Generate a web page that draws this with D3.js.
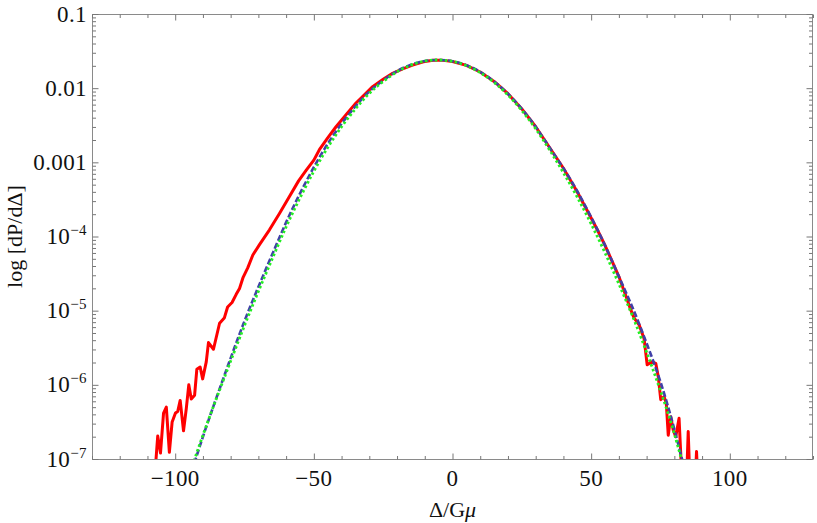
<!DOCTYPE html>
<html>
<head>
<meta charset="utf-8">
<script src="https://cdn.jsdelivr.net/npm/d3@7"></script>
<style>
  body { margin: 0; background: #fff; }
  text { font-family: "Liberation Serif", "Times New Roman", serif; fill: #111; }
</style>
</head>
<body>
<svg id="svg" width="817" height="523"></svg>
<script>
// tick labels
const xTickValues = [-100, -50, 0, 50, 100];
const yDecades = [-1, -2, -3, -4, -5, -6, -7];
const yTickText = ["0.1", "0.01", "0.001", null, null, null, null];

// red: simulated histogram (log10 of dP/dΔ)
const redX = [-107.5, -106.3, -105.3, -104.2, -103.2, -102.1, -101.1, -99.9, -99.1, -98.2,
  -97.0, -96.0, -95.1, -94.2, -93.0, -92.2, -91.0, -90.1, -88.8, -88.0, -86.2, -84.0,
  -82.3, -81.1, -79.5, -78.0, -76.8, -75.5, -73.8, -72.0, -69.6, -66.0, -62.4, -58.8,
  -55.5, -52.8, -50.0, -48.0, -45.0, -42.0, -38.0, -34.8, -31.5, -28.8, -25.0, -21.6,
  -18.0, -14.4, -10.5, -7.0, -4.0, 0, 5, 10, 15, 20, 25, 30, 35, 40, 45, 50, 52.5, 55,
  57.5, 60, 62.5, 64.3, 65.5, 67.3, 69.1, 70.2, 72.0, 73.3, 74.2, 75.1, 76.3, 77.1,
  77.8, 78.7, 79.6, 80.5, 81.7, 82.9, 84.3, 85.0, 85.7, 87.4, 88.0, 88.6];
const redLog = [-7.3, -6.69, -6.92, -6.38, -6.30, -6.91, -6.50, -6.38, -6.36, -6.21,
  -6.62, -6.32, -6.00, -6.19, -6.14, -5.79, -5.76, -5.92, -5.69, -5.43, -5.52, -5.17,
  -5.10, -4.95, -4.89, -4.78, -4.70, -4.55, -4.42, -4.25, -4.11, -3.91, -3.69, -3.46,
  -3.25, -3.11, -2.97, -2.83, -2.67, -2.52, -2.34, -2.20, -2.08, -1.98, -1.88, -1.80,
  -1.74, -1.69, -1.645, -1.623, -1.622, -1.64, -1.692, -1.782, -1.91, -2.075, -2.28, -2.52,
  -2.80, -3.08, -3.40, -3.75, -3.93, -4.12, -4.33, -4.54, -4.80, -4.99, -5.10, -5.19,
  -5.38, -5.73, -5.69, -5.71, -5.89, -6.20, -6.16, -6.25, -6.68, -6.43, -6.61, -6.70,
  -6.45, -7.4, -7.4, -6.63, -7.4, -7.4, -6.90, -7.4];

// smooth curves, sampled every 5
const fitX = [-95, -90, -85, -80, -75, -70, -65, -60, -55, -50, -45, -40, -35, -30, -25,
  -20, -15, -10, -5, 0, 5, 10, 15, 20, 25, 30, 35, 40, 45, 50, 55, 60, 65, 70, 75, 80, 85];
const blueLog = [-7.28, -6.70, -6.16, -5.64, -5.14, -4.68, -4.24, -3.81, -3.42, -3.065,
  -2.75, -2.48, -2.245, -2.045, -1.895, -1.77, -1.685, -1.633, -1.620, -1.637, -1.69,
  -1.78, -1.91, -2.075, -2.28, -2.52, -2.80, -3.08, -3.39, -3.74, -4.12, -4.54,
  -4.965, -5.44, -5.96, -6.60, -7.33];
const greenLog = [-7.22, -6.68, -6.17, -5.68, -5.20, -4.74, -4.30, -3.87, -3.48, -3.12,
  -2.80, -2.52, -2.28, -2.07, -1.91, -1.78, -1.69, -1.635, -1.620, -1.639, -1.696,
  -1.79, -1.923, -2.093, -2.302, -2.548, -2.832, -3.14, -3.47, -3.83, -4.22, -4.64,
  -5.08, -5.56, -6.08, -6.66, -7.35];

const svg = d3.select("#svg");
const pLeft = 92, pRight = 813, pTop = 14, pBottom = 459;

const x = d3.scaleLinear().domain([-130, 130]).range([pLeft, pRight]);
const y = d3.scaleLog().domain([1e-7, 0.1]).range([pBottom, pTop]);

const frameColor = "#8a8a8a";

// frame
svg.append("rect")
  .attr("x", pLeft + 0.5).attr("y", pTop + 0.5)
  .attr("width", pRight - pLeft - 1).attr("height", pBottom - pTop)
  .attr("fill", "none").attr("stroke", frameColor).attr("stroke-width", 1);

const xMinor = d3.range(-130, 131, 10).filter(v => v % 50 !== 0);
const yMinor = [];
yDecades.forEach(e => {
  if (e === -1) return;
  for (let k = 2; k <= 9; k++) yMinor.push(k * Math.pow(10, e));
});
const yMajor = yDecades.map(e => Math.pow(10, e));

function styleAxis(g) {
  g.select(".domain").remove();
  g.selectAll("line").attr("stroke", "#777");
  g.selectAll("text").remove();
}

// x ticks, bottom and top, pointing inward
[[d3.axisBottom, pBottom + 0.5], [d3.axisTop, pTop + 0.5]].forEach(([ax, py]) => {
  svg.append("g").attr("transform", `translate(0,${py})`)
    .call(ax(x).tickValues(xTickValues).tickSize(-6))
    .call(styleAxis);
  svg.append("g").attr("transform", `translate(0,${py})`)
    .call(ax(x).tickValues(xMinor).tickSize(-3.5))
    .call(styleAxis);
});

// y ticks, left and right
[[d3.axisLeft, pLeft + 0.5], [d3.axisRight, pRight - 0.5]].forEach(([ax, px]) => {
  svg.append("g").attr("transform", `translate(${px},0)`)
    .call(ax(y).tickValues(yMajor).tickSize(-6))
    .call(styleAxis);
  svg.append("g").attr("transform", `translate(${px},0)`)
    .call(ax(y).tickValues(yMinor).tickSize(-3.5))
    .call(styleAxis);
});

// x tick labels
svg.append("g").selectAll("text").data(xTickValues).join("text")
  .attr("x", d => x(d)).attr("y", 486)
  .attr("text-anchor", "middle")
  .style("font-size", "23px").style("letter-spacing", "0.4px")
  .text(d => d < 0 ? "\u2212" + Math.abs(d) : d);

// y tick labels
const yl = svg.append("g").selectAll("text").data(yDecades).join("text")
  .attr("x", pLeft - 5)
  .attr("y", d => y(Math.pow(10, d)) + 7.5)
  .attr("text-anchor", "end")
  .style("font-size", "23px").style("letter-spacing", "0.4px");
yl.each(function (d, i) {
  const t = d3.select(this);
  if (yTickText[i]) { t.text(yTickText[i]); return; }
  t.append("tspan").text("10");
  t.append("tspan").attr("dy", -9).style("font-size", "15px").text("\u2212" + Math.abs(d));
});

// axis labels
svg.append("text")
  .attr("x", (pLeft + pRight) / 2).attr("y", 517)
  .attr("text-anchor", "middle").style("font-size", "22px")
  .call(t => {
    t.append("tspan").text("\u0394/G");
    t.append("tspan").style("font-style", "italic").text("\u03bc");
  });

svg.append("text")
  .attr("transform", `translate(22,${(pTop + pBottom) / 2}) rotate(-90)`)
  .attr("text-anchor", "middle").style("font-size", "22px")
  .text("log [dP/d\u0394]");

// curves
svg.append("clipPath").attr("id", "plotClip")
  .append("rect").attr("x", pLeft).attr("y", pTop)
  .attr("width", pRight - pLeft).attr("height", pBottom - pTop);

const plot = svg.append("g").attr("clip-path", "url(#plotClip)");

const lineLin = d3.line().x(d => x(d[0])).y(d => y(Math.pow(10, d[1])));
const lineSmooth = d3.line().x(d => x(d[0])).y(d => y(Math.pow(10, d[1]))).curve(d3.curveNatural);

plot.append("path")
  .datum(redX.map((v, i) => [v, redLog[i]]))
  .attr("d", lineLin)
  .attr("fill", "none").attr("stroke", "#ff0000")
  .attr("stroke-width", 3).attr("stroke-linejoin", "round");

plot.append("path")
  .datum(fitX.map((v, i) => [v, blueLog[i]]))
  .attr("d", lineSmooth)
  .attr("fill", "none").attr("stroke", "#4040a8")
  .attr("stroke-width", 2.6).attr("stroke-dasharray", "6,2.5");

plot.append("path")
  .datum(fitX.map((v, i) => [v, greenLog[i]]))
  .attr("d", lineSmooth)
  .attr("fill", "none").attr("stroke", "#22ee22")
  .attr("stroke-width", 2.8).attr("stroke-dasharray", "2.5,2.5");
</script>
</body>
</html>
